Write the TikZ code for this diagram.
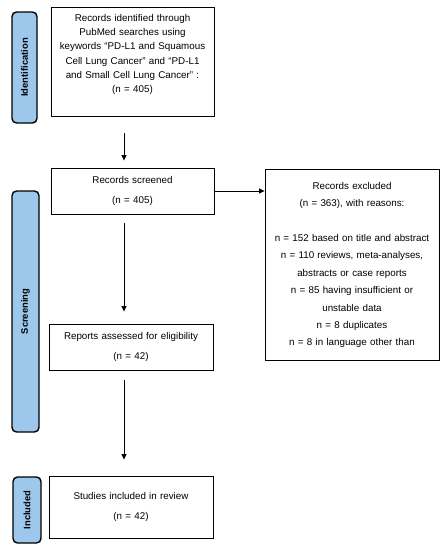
\documentclass[tikz,border=0pt]{standalone}
\usepackage{fontspec}
\setmainfont{Liberation Sans}
\usetikzlibrary{arrows.meta, positioning, calc}
\definecolor{stageblue}{RGB}{157,200,235}

\begin{document}
\begin{tikzpicture}[x=1pt, y=-1pt,
                font=\fontsize{9.8}{14.1}\selectfont,
                record/.style={draw, line width=0.9pt, align=center, inner sep=2pt},
                stage/.style={draw, line width=1.4pt, fill=stageblue, rounded corners=4.5pt,
                              rotate=90, font=\fontsize{9.4}{11}\selectfont\bfseries},
                flow/.style={-{Triangle[width=5pt, length=5.5pt]}, line width=0.8pt}]

                \useasboundingbox (0,0) rectangle (447,550);

                % Phase labels on the left
                \node[stage, minimum width=111pt, minimum height=25pt] (ident) at (24.5,67.5) {Identification};
                \node[stage, minimum width=241pt, minimum height=27pt] (screen) at (25.5,311.5) {Screening};
                \node[stage, minimum width=66pt, minimum height=28pt] (incl) at (27,510) {Included};

                % Flow boxes
                \node[record, minimum width=163pt, minimum height=109pt, text width=158pt] (found) at (132.5,61.5)
                    {Records identified through\\ PubMed searches using\\ keywords “PD-L1 and Squamous\\
                     Cell Lung Cancer” and “PD-L1\\ and Small Cell Lung Cancer” :\\ (n = 405)\\[2pt] ~};
                \node[record, minimum width=163pt, minimum height=46pt, text width=158pt] (screened) at (132.5,191)
                    {Records screened\\[5pt] (n = 405)};
                \node[record, minimum width=164pt, minimum height=46pt, text width=158pt] (assessed) at (131,347)
                    {Reports assessed for eligibility\\[5pt] (n = 42)};
                \node[record, minimum width=164pt, minimum height=62pt, text width=158pt] (included) at (131,507)
                    {Studies included in review\\[5pt] (n = 42)};
                \node[record, minimum width=174pt, minimum height=191pt, text width=168pt] (excluded) at (352,265)
                    {Records excluded\\[3.3pt] (n = 363), with reasons:\\[3.3pt] ~\\[3.3pt]
                     n = 152 based on title and abstract\\[3.3pt] n = 110 reviews, meta-analyses,\\[3.3pt]
                     abstracts or case reports\\[3.3pt] n = 85 having insufficient or\\[3.3pt]
                     unstable data\\[3.3pt] n = 8 duplicates\\[3.3pt] n = 8 in language other than};

                % Arrows down the main column
                \coordinate (axis) at (124,0);
                \draw[flow, shorten <=17pt, shorten >=7pt] (axis |- found.south) -- (axis |- screened.north);
                \draw[flow, shorten <=9pt, shorten >=12pt] (axis |- screened.south) -- (axis |- assessed.north);
                \draw[flow, shorten <=10pt, shorten >=16pt] (axis |- assessed.south) -- (axis |- included.north);

                % Arrow to the excluded records
                \draw[flow] (screened.east) -- (screened.east -| excluded.west);
\end{tikzpicture}
\end{document}
